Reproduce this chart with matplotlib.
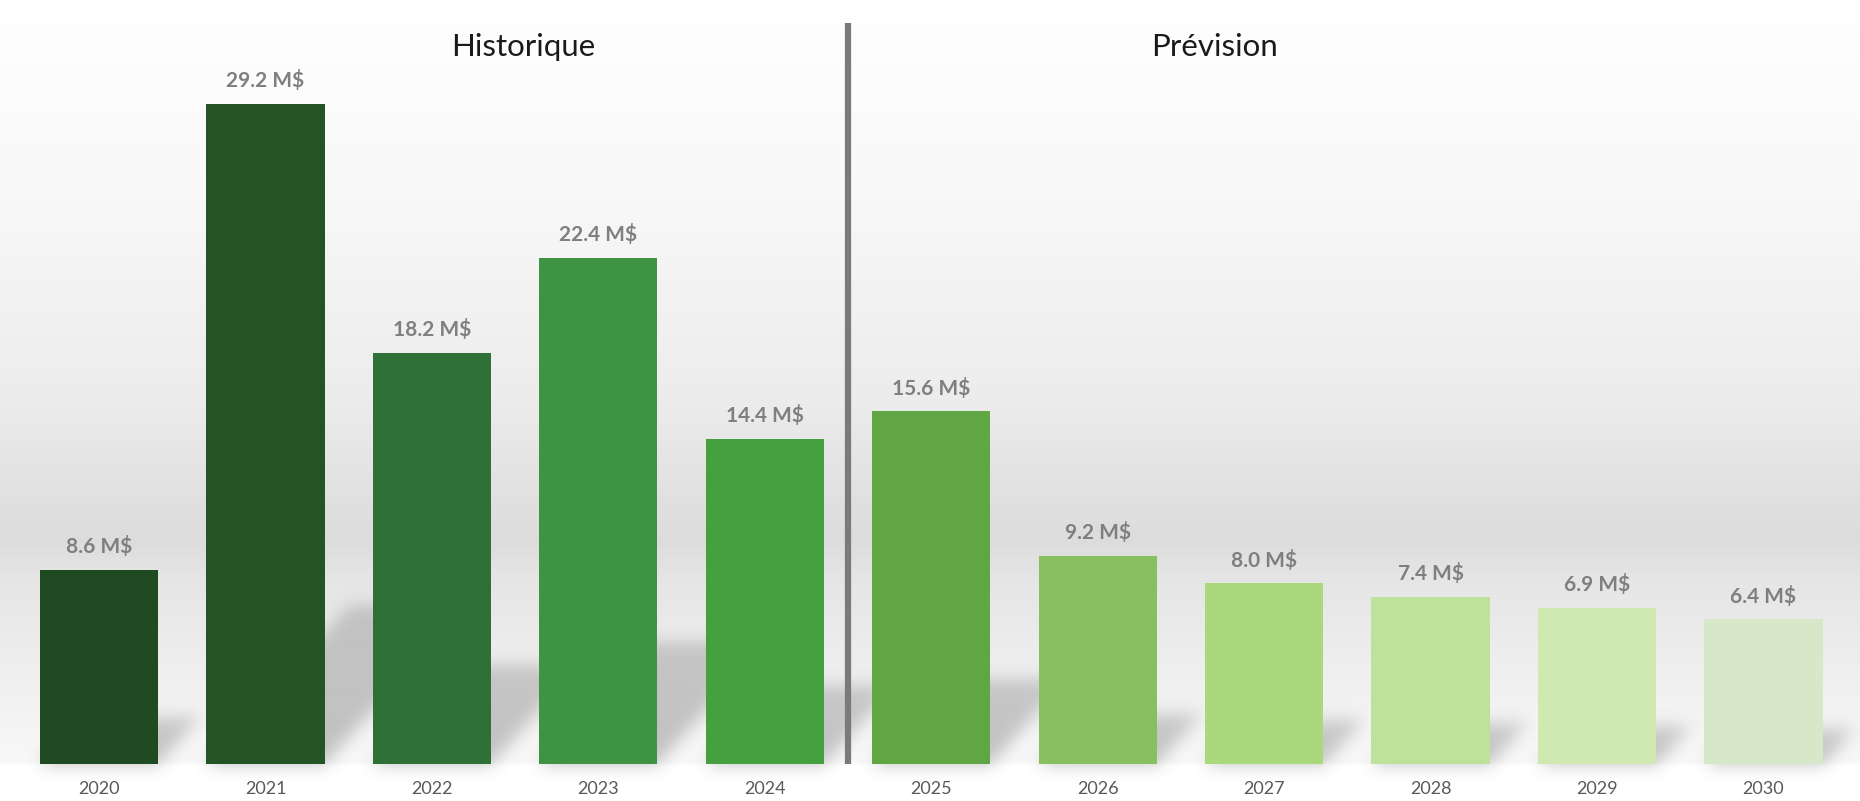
import numpy as np
import matplotlib.pyplot as plt
from matplotlib.colors import LinearSegmentedColormap

# Data
years = ['2020', '2021', '2022', '2023', '2024', '2025', '2026', '2027', '2028', '2029', '2030']
values = [8.6, 29.2, 18.2, 22.4, 14.4, 15.6, 9.2, 8.0, 7.4, 6.9, 6.4]
bar_colors = ['#1f4a22', '#245325', '#2e7035', '#3e9442', '#46a040', '#60a645',
              '#88c05f', '#a9d97a', '#bde29b', '#d0e9b2', '#d6e8c8']
section_titles = ['Historique', 'Prévision']

plt.rcParams['font.family'] = ['Lato', 'DejaVu Sans']

W, H = 1860, 801
fig = plt.figure(figsize=(W / 100, H / 100), dpi=100)

# Background gradient (white top, grey band, lighter floor)
bg = fig.add_axes([0, 0, 1, 1], zorder=0)
stops = [(0.0, '#ffffff'), (0.25, '#f8f8f8'), (0.5, '#ececec'), (0.675, '#dcdcdc'),
         (0.72, '#e5e5e5'), (0.88, '#f2f2f2'), (0.953, '#f8f8f8'), (0.96, '#ffffff'), (1.0, '#ffffff')]
cmap = LinearSegmentedColormap.from_list('bg', stops)
grad = np.linspace(0, 1, 400).reshape(-1, 1)
bg.imshow(grad, aspect='auto', cmap=cmap, extent=[0, W, H, 0], zorder=0)

ax = fig.add_axes([0, 37 / H, 1, 1 - 37 / H], zorder=1)
ax.patch.set_alpha(0)
x = np.arange(len(years))
width = 0.71
ax.set_xlim(-0.595, 10.58)
ax.set_ylim(0, 33.8)

# Soft perspective shadows, rasterised in pixel space from the bar geometry
fig.canvas.draw()
trans = ax.transData
mask = np.zeros((H, W))
for xi, v in zip(x, values):
    (px0, py0), (px1, py1) = trans.transform([(xi - width / 2, 0), (xi + width / 2, v)])
    base = H - py0          # row of the baseline (top-down)
    rise = 0.24 * (py1 - py0)
    for r in range(int(base - rise), int(base) + 1):
        t = base - r
        if t < 0 or r < 0 or r >= H:
            continue
        s = 0.9 * t
        a, b = max(int(px0 + s), 0), min(int(px1 + s), W)
        if b > a:
            mask[r, a:b] = np.maximum(mask[r, a:b], 1 - 0.2 * t / rise)

sig = 8
k = np.exp(-0.5 * (np.arange(-3 * sig, 3 * sig + 1) / sig) ** 2)
k /= k.sum()
mask = np.apply_along_axis(lambda m: np.convolve(m, k, mode='same'), 1, mask)
mask = np.apply_along_axis(lambda m: np.convolve(m, k, mode='same'), 0, mask)
shadow = np.zeros((H, W, 4))
shadow[..., :3] = 0.5
shadow[..., 3] = mask * 0.45
bg.imshow(shadow, extent=[0, W, H, 0], zorder=1, interpolation='bilinear')
bg.set_xlim(0, W)
bg.set_ylim(H, 0)
bg.axis('off')

ax.bar(x, values, width=width, color=bar_colors, zorder=3)

for xi, v in zip(x, values):
    ax.annotate(f'{v:.1f} M$', (xi, v), xytext=(0, 12), textcoords='offset points',
                ha='center', va='baseline', fontsize=15, fontweight='bold',
                color='#7f7f7f', zorder=4)

# Divider between historical and forecast
ax.plot([4.5, 4.5], [0, 32.8], color='#7a7a7a', linewidth=4.5, zorder=4,
        solid_capstyle='butt')

ax.text(2.55, 31.7, section_titles[0], ha='center', va='center', fontsize=22.5, color='#1a1a1a')
ax.text(6.7, 31.7, section_titles[1], ha='center', va='center', fontsize=22.5, color='#1a1a1a')

ax.set_xticks(x)
ax.set_xticklabels(years, fontsize=13, color='#595959')
ax.tick_params(axis='x', length=0, pad=12)
ax.set_yticks([])
for s in ax.spines.values():
    s.set_visible(False)

fig.savefig('out.png', dpi=100)
